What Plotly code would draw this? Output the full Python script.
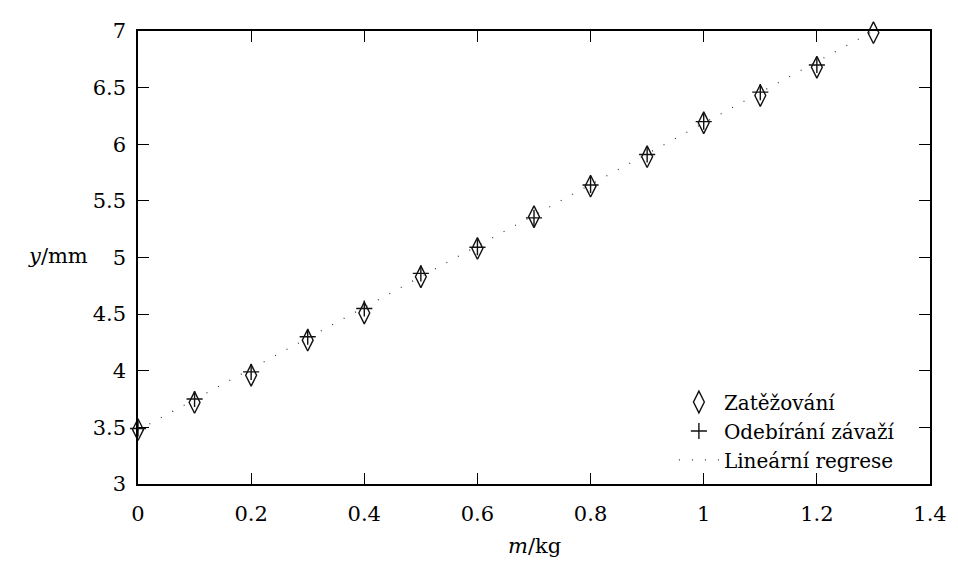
import plotly.graph_objects as go

# Data
mass_load = [0.0, 0.1, 0.2, 0.3, 0.4, 0.5, 0.6, 0.7, 0.8, 0.9, 1.0, 1.1, 1.2, 1.3]
y_load = [3.48, 3.72, 3.96, 4.27, 4.51, 4.83, 5.08, 5.36, 5.63, 5.89, 6.19, 6.43, 6.68, 6.985]

mass_unload = [0.0, 0.1, 0.2, 0.3, 0.4, 0.5, 0.6, 0.7, 0.8, 0.9, 1.0, 1.1, 1.2]
y_unload = [3.49, 3.75, 3.99, 4.30, 4.55, 4.86, 5.09, 5.35, 5.64, 5.91, 6.20, 6.46, 6.70]

reg_x = [0.0, 1.3]
reg_y = [3.475, 7.0]

x_ticks = [0, 0.2, 0.4, 0.6, 0.8, 1.0, 1.2, 1.4]
y_ticks = [3, 3.5, 4, 4.5, 5, 5.5, 6, 6.5, 7]

FONT = "DejaVu Serif"
INK = "#111111"

fig = go.Figure()

fig.add_trace(go.Scatter(
    x=mass_load, y=y_load, mode="markers", name="Zatěžování",
    marker=dict(symbol="diamond-tall-open", size=15.5, color=INK,
                line=dict(width=1.4, color=INK)),
    cliponaxis=False,
))
fig.add_trace(go.Scatter(
    x=mass_unload, y=y_unload, mode="markers", name="Odebírání závaží",
    marker=dict(symbol="cross-thin-open", size=11.5, color=INK,
                line=dict(width=1.4, color=INK)),
    cliponaxis=False,
))
fig.add_trace(go.Scatter(
    x=reg_x, y=reg_y, mode="lines", name="Lineární regrese",
    line=dict(color="#333333", width=1.2, dash="1px,12px"),
))

axis_common = dict(
    showgrid=False, zeroline=False, showline=True, linecolor="black",
    linewidth=1.5, mirror="allticks", ticks="inside", ticklen=11,
    tickwidth=1, tickcolor="black",
    tickfont=dict(family=FONT, size=21, color="black"),
)

fig.update_xaxes(range=[0, 1.4], tickvals=x_ticks, ticklabelstandoff=10,
                 **axis_common)
fig.update_yaxes(range=[3, 7], tickvals=y_ticks, ticklabelstandoff=6,
                 **axis_common)

# page body adds an 8px margin; compensate so the plot area matches
fig.update_layout(
    width=950, height=561,
    margin=dict(l=130, r=22, t=11, b=85),
    paper_bgcolor="white", plot_bgcolor="white",
    font=dict(family=FONT, size=21, color="black"),
    showlegend=True,
    legend=dict(x=0.962, y=0.01, xanchor="right", yanchor="bottom",
                bgcolor="rgba(0,0,0,0)", borderwidth=0,
                font=dict(family=FONT, size=20, color="black"),
                tracegroupgap=0, itemwidth=40),
    annotations=[
        dict(text="<i>y</i>/mm", xref="paper", yref="paper", x=-0.1015, y=0.503,
             xanchor="center", yanchor="middle", showarrow=False,
             font=dict(family=FONT, size=21, color="black")),
        dict(text="<i>m</i>/kg", xref="paper", yref="paper", x=0.5, y=-0.1376,
             xanchor="center", yanchor="middle", showarrow=False,
             font=dict(family=FONT, size=21, color="black")),
    ],
)

fig.write_html("out.html")
